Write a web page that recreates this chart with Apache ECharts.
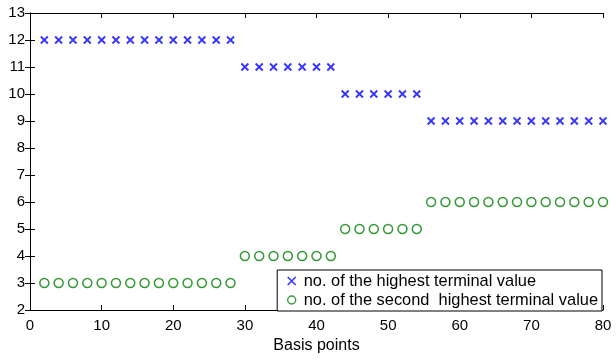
<!DOCTYPE html>
<html>
<head>
<meta charset="utf-8">
<script src="https://cdn.jsdelivr.net/npm/echarts@6/dist/echarts.min.js"></script>
<style>
  html, body { margin: 0; padding: 0; background: #fff; }
  #chart { width: 616px; height: 359px; }
</style>
</head>
<body>
<div id="chart"></div>
<script>
// basis points on the x axis
const basisPoints = [2, 4, 6, 8, 10, 12, 14, 16, 18, 20, 22, 24, 26, 28,
  30, 32, 34, 36, 38, 40, 42,
  44, 46, 48, 50, 52, 54,
  56, 58, 60, 62, 64, 66, 68, 70, 72, 74, 76, 78, 80];
const highestCount = [12, 12, 12, 12, 12, 12, 12, 12, 12, 12, 12, 12, 12, 12,
  11, 11, 11, 11, 11, 11, 11,
  10, 10, 10, 10, 10, 10,
  9, 9, 9, 9, 9, 9, 9, 9, 9, 9, 9, 9, 9];
const secondCount = [3, 3, 3, 3, 3, 3, 3, 3, 3, 3, 3, 3, 3, 3,
  4, 4, 4, 4, 4, 4, 4,
  5, 5, 5, 5, 5, 5,
  6, 6, 6, 6, 6, 6, 6, 6, 6, 6, 6, 6, 6];
const seriesNames = ['no. of the highest terminal value', 'no. of the second  highest terminal value'];

const crossPath = 'path://M0,0L10,10M10,0L0,10';
const font = 'Liberation Sans';

const chart = echarts.init(document.getElementById('chart'));

const axisLine = { show: true, lineStyle: { color: '#000', width: 1 } };
const axisTick = { show: true, inside: true, length: 5, lineStyle: { color: '#000' } };

const option = {
  animation: false,
  textStyle: { fontFamily: font },
  grid: { left: 30, right: 13, top: 13, bottom: 46 },
  xAxis: [{
    type: 'value', min: 0, max: 80, interval: 10,
    name: 'Basis points', nameLocation: 'middle', nameGap: 28,
    nameTextStyle: { color: '#000', fontSize: 16, fontFamily: font },
    axisLine, axisTick,
    axisLabel: { color: '#000', fontSize: 15, fontFamily: font, margin: 8 },
    splitLine: { show: false }
  }, {
    type: 'value', min: 0, max: 80, interval: 10, position: 'top',
    axisLine, axisTick, axisLabel: { show: false }, splitLine: { show: false }
  }],
  yAxis: [{
    type: 'value', min: 2, max: 13, interval: 1,
    axisLine, axisTick,
    axisLabel: { color: '#000', fontSize: 15, fontFamily: font, margin: 5 },
    splitLine: { show: false }
  }, {
    type: 'value', min: 2, max: 13, interval: 1, position: 'right',
    axisLine, axisTick, axisLabel: { show: false }, splitLine: { show: false }
  }],
  legend: {
    orient: 'vertical',
    right: 14, bottom: 48,
    padding: [3, 4, 3, 8],
    itemGap: 3,
    itemWidth: 14, itemHeight: 8,
    backgroundColor: '#fff',
    borderColor: '#000', borderWidth: 1,
    textStyle: { color: '#000', fontSize: 16.4, fontFamily: font },
    data: [{
      name: seriesNames[0], icon: crossPath,
      itemStyle: { color: 'none', borderColor: '#0000ff', borderWidth: 1.6 }
    }, {
      name: seriesNames[1], icon: 'circle',
      itemStyle: { color: 'none', borderColor: '#008000', borderWidth: 1.4 }
    }]
  },
  series: [{
    name: seriesNames[0],
    type: 'scatter',
    symbol: crossPath,
    symbolSize: 7,
    itemStyle: { color: 'none', borderColor: '#0000ff', borderWidth: 1.8 },
    data: basisPoints.map((x, i) => [x, highestCount[i]])
  }, {
    name: seriesNames[1],
    type: 'scatter',
    symbol: 'circle',
    symbolSize: 9,
    itemStyle: { color: 'none', borderColor: '#008000', borderWidth: 1.5 },
    data: basisPoints.map((x, i) => [x, secondCount[i]])
  }]
};

chart.setOption(option);
</script>
</body>
</html>
